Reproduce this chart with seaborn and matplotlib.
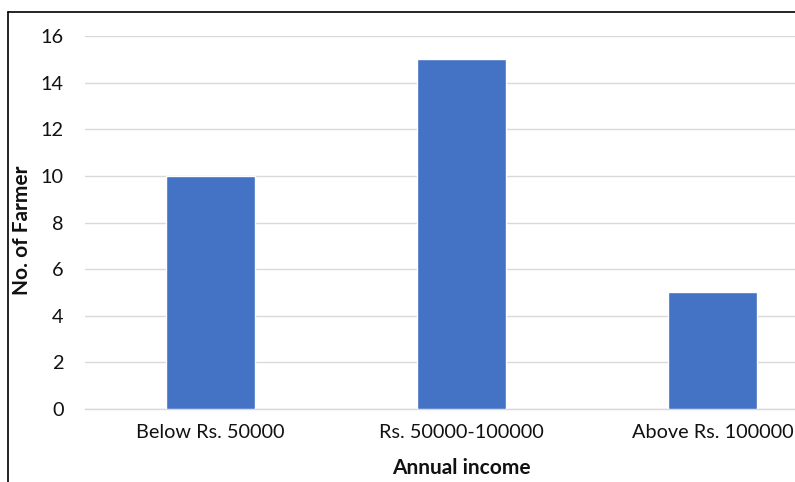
import matplotlib
matplotlib.use("Agg")
import matplotlib.pyplot as plt
from matplotlib.lines import Line2D
import seaborn as sns
import pandas as pd

categories = ["Below Rs. 50000", "Rs. 50000-100000", "Above Rs. 100000"]
farmers = [10, 15, 5]
y_ticks = [0, 2, 4, 6, 8, 10, 12, 14, 16]

sns.set_theme(style="white")
plt.rcParams["font.family"] = ["Lato", "DejaVu Sans"]

df = pd.DataFrame({"income": categories, "count": farmers})

W, H = 795, 482
fig = plt.figure(figsize=(W / 100, H / 100), dpi=100)
# plot area runs past the right edge of the canvas
left, right = 85, 838
top, bottom = 36, 409
ax = fig.add_axes([left / W, 1 - bottom / H, (right - left) / W, (bottom - top) / H])

sns.barplot(data=df, x="income", y="count", color="#4472C4", width=0.355,
            saturation=1, ax=ax, zorder=3)

ax.set_ylim(0, 16)
ax.set_yticks(y_ticks)
ax.set_xlim(-0.5, 2.5)
ax.yaxis.grid(True, color="#d9d9d9", linewidth=1, zorder=0)
for s in ["top", "right", "left"]:
    ax.spines[s].set_visible(False)
ax.spines["bottom"].set_color("#d9d9d9")
ax.spines["bottom"].set_linewidth(1)
ax.tick_params(axis="both", length=0, labelsize=14.3, colors="#111111")
ax.tick_params(axis="y", pad=15.5)
ax.tick_params(axis="x", pad=10.5)
ax.set_xlabel("")
ax.set_ylabel("")

fig.text(461 / W, 1 - 468 / H, "Annual income", ha="center", va="center",
         fontsize=15, fontweight="bold", color="#111111")
fig.text(22 / W, 1 - 230 / H, "No. of Farmer", ha="center", va="center",
         rotation=90, fontsize=15, fontweight="bold", color="#111111")

# outer frame (top and left edges)
fig.add_artist(Line2D([8 / W, 8 / W], [0, 1 - 12 / H], transform=fig.transFigure,
                      color="black", linewidth=1.2))
fig.add_artist(Line2D([8 / W, 1], [1 - 12 / H, 1 - 12 / H], transform=fig.transFigure,
                      color="black", linewidth=1.2))

fig.savefig("out.png", dpi=100)
